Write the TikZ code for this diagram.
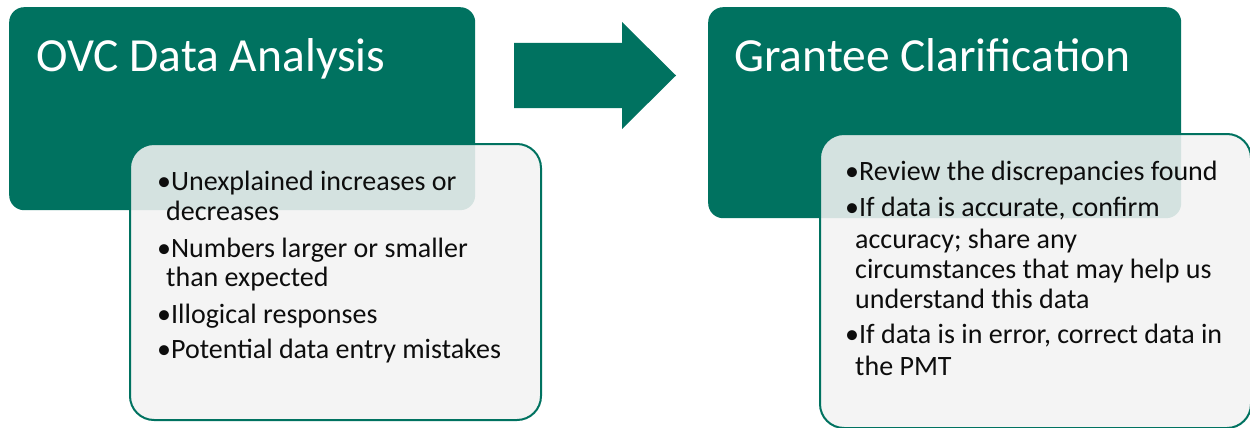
\documentclass[tikz,border=0pt]{standalone}
\usepackage{fontspec}
\setmainfont{Carlito}
\definecolor{ovcgreen}{RGB}{0,114,96}
\definecolor{notegray}{RGB}{242,242,242}
\tikzset{
  headbox/.style={draw=none, fill=ovcgreen, rounded corners=15pt, anchor=north west},
  notebox/.style={draw=ovcgreen, line width=2pt, fill=notegray, fill opacity=0.88, draw opacity=1, rounded corners=24pt, anchor=north west},
  headtext/.style={anchor=base west, inner sep=0pt, text=white, font=\fontsize{47.5}{52}\selectfont},
  itemtext/.style={anchor=base west, inner sep=0pt, text=black!95, font=\fontsize{28}{32}\selectfont}
}

\begin{document}
\begin{tikzpicture}[x=1pt,y=-1pt]
\useasboundingbox (0,0) rectangle (1250,428);
% left pair
\node[headbox, minimum width=466pt, minimum height=203pt] (analysis) at (9,7) {};
\node[notebox, minimum width=411pt, minimum height=276pt] (analysisnote) at (129,143) {};
\node[headtext] (analysistitle) at (36,72) {OVC Data Analysis};
\node[itemtext] (a1) at (157,190) {•Unexplained increases or};
\node[itemtext] (a1b) at (166,220) {decreases};
\node[itemtext] (a2) at (157,257) {•Numbers larger or smaller};
\node[itemtext] (a2b) at (166,286) {than expected};
\node[itemtext] (a3) at (157,323) {•Illogical responses};
\node[itemtext] (a4) at (157,358) {•Potential data entry mistakes};
% arrow
\fill[ovcgreen] (514,43) -- (622,43) -- (622,22) -- (676,75.5) -- (622,129) -- (622,108) -- (514,108) -- cycle;
% right pair
\node[headbox, minimum width=473pt, minimum height=211pt] (grantee) at (708,7) {};
\node[notebox, minimum width=431pt, minimum height=294pt] (granteenote) at (819,133) {};
\node[headtext] (granteetitle) at (734,72) {Grantee Clarification};
\node[itemtext] (g1) at (845,180) {•Review the discrepancies found};
\node[itemtext] (g2) at (845,216) {•If data is accurate, confirm};
\node[itemtext] (g2b) at (855,248) {accuracy; share any};
\node[itemtext] (g2c) at (855,278) {circumstances that may help us};
\node[itemtext] (g2d) at (855,308) {understand this data};
\node[itemtext] (g3) at (845,343) {•If data is in error, correct data in};
\node[itemtext] (g3b) at (855,375) {the PMT};
\end{tikzpicture}
\end{document}
